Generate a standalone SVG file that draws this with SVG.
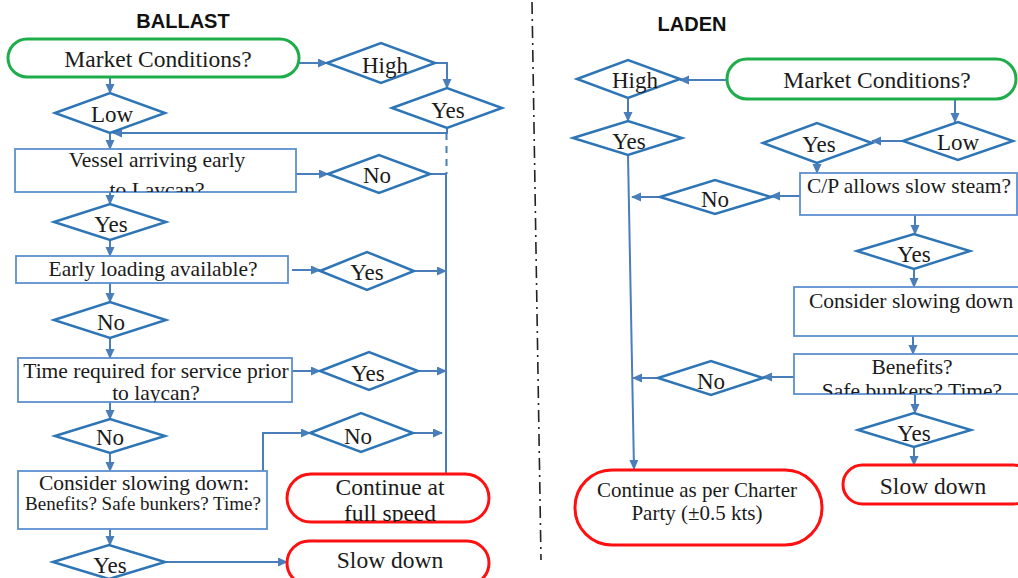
<svg xmlns="http://www.w3.org/2000/svg" width="1018" height="578" viewBox="0 0 1018 578">
  <defs>
    <marker id="arrow" markerUnits="userSpaceOnUse" markerWidth="10" markerHeight="10" refX="9" refY="4.5" orient="auto">
      <path d="M0,0 L10,4.5 L0,9 z" fill="#4a7ebb"/>
    </marker>
    <clipPath id="clipVessel"><rect x="15" y="149" width="281" height="43"/></clipPath>
    <clipPath id="clipTime"><rect x="18" y="358" width="274" height="44"/></clipPath>
    <clipPath id="clipFull"><rect x="287" y="474" width="202" height="48" rx="24"/></clipPath>
    <clipPath id="clipBenefits"><rect x="794" y="354" width="230" height="40"/></clipPath>
  </defs>
  <style>
    .title { font-family: "Liberation Sans", Arial, sans-serif; font-weight: bold; font-size: 20px; fill: #111; text-anchor: middle; }
    .t { font-family: "Liberation Serif", "Times New Roman", serif; fill: #1a1a1a; text-anchor: middle; }
    .big { font-size: 23.5px; }
    .dl { font-size: 23px; }
    .bx { font-size: 21.5px; }
    .cp { font-size: 21px; }
    .sm { font-size: 19px; }
    .dia { fill: #fff; stroke: #2e75b6; stroke-width: 2.5; stroke-linejoin: miter; }
    .box { fill: #fff; stroke: #5b8fd0; stroke-width: 1.8; }
    .go { fill: #fff; stroke: #1fad4b; stroke-width: 3; }
    .end { fill: #fff; stroke: #ff1010; stroke-width: 3; }
    .c { fill: none; stroke: #4a7ebb; stroke-width: 2; }
    .ca { fill: none; stroke: #4a7ebb; stroke-width: 2; marker-end: url(#arrow); }
  </style>
  <rect width="1018" height="578" fill="#fff"/>

  <!-- headings -->
  <text class="title" x="183" y="28">BALLAST</text>
  <text class="title" x="692" y="31">LADEN</text>

  <!-- divider between the two charts -->
  <line x1="532" y1="2" x2="541" y2="560" stroke="#222" stroke-width="1.6" stroke-dasharray="12 5 2 5"/>

  <!-- connectors -->
  <g id="connectors">
    <!-- ballast -->
    <path class="ca" d="M299,63 H327"/>
    <path class="ca" d="M435,63 H447 V88"/>
    <path class="ca" d="M110,77 V93"/>
    <path class="ca" d="M447,128 V133 H113"/>
    <path class="ca" d="M110,133 V149"/>
    <path class="ca" d="M296,174 H328"/>
    <path class="c" d="M430,174 H446"/>
    <path class="c" d="M446.5,133 V174" stroke-dasharray="7 6"/>
    <path class="c" d="M446,174 V474"/>
    <path class="ca" d="M110,192 V204"/>
    <path class="ca" d="M110,240 V256"/>
    <path class="ca" d="M292,270 H320"/>
    <path class="ca" d="M414,271 H446"/>
    <path class="ca" d="M110,283 V302"/>
    <path class="ca" d="M110,338 V358"/>
    <path class="ca" d="M292,371 H320"/>
    <path class="ca" d="M418,371 H446"/>
    <path class="ca" d="M110,402 V419"/>
    <path class="ca" d="M110,453 V471"/>
    <path class="ca" d="M263,471 V433 H310"/>
    <path class="ca" d="M413,433 H442"/>
    <path class="ca" d="M110,529 V545"/>
    <path class="ca" d="M165,562 H287"/>
    <!-- laden -->
    <path class="ca" d="M727,80 H680"/>
    <path class="ca" d="M628,98 V121"/>
    <path class="ca" d="M628,155 L634,469"/>
    <path class="ca" d="M955,99 V122"/>
    <path class="ca" d="M903,141 H872"/>
    <path class="ca" d="M817,163 V173"/>
    <path class="ca" d="M800,196 H771"/>
    <path class="ca" d="M660,197 H632"/>
    <path class="ca" d="M915,215 V234"/>
    <path class="ca" d="M914,269 V287"/>
    <path class="ca" d="M913,336 V354"/>
    <path class="ca" d="M794,377 H763"/>
    <path class="ca" d="M658,378 H633"/>
    <path class="ca" d="M915,394 V413"/>
    <path class="ca" d="M914,447 V465"/>
  </g>

  <!-- ballast chart -->
  <g id="b-market">
    <rect class="go" x="8" y="39" width="291" height="38" rx="19"/>
    <text class="t big" x="158" y="67">Market Conditions?</text>
  </g>
  <g id="b-high">
    <polygon class="dia" points="327,63 381,43 435,63 381,83"/>
    <text class="t dl" x="385" y="73">High</text>
  </g>
  <g id="b-high-yes">
    <polygon class="dia" points="392,108 447,88 502,108 447,128"/>
    <text class="t dl" x="448" y="118">Yes</text>
  </g>
  <g id="b-low">
    <polygon class="dia" points="55,113 110,93 165,113 110,133"/>
    <text class="t dl" x="112" y="122">Low</text>
  </g>
  <g id="b-vessel">
    <rect class="box" x="15" y="149" width="281" height="43"/>
    <text class="t bx" x="157" y="167">Vessel arriving early</text>
    <text class="t bx" x="157" y="197" clip-path="url(#clipVessel)">to Laycan?</text>
  </g>
  <g id="b-vessel-no">
    <polygon class="dia" points="328,174 379,155 430,174 379,193"/>
    <text class="t dl" x="377" y="183">No</text>
  </g>
  <g id="b-vessel-yes">
    <polygon class="dia" points="54,222 110,204 166,222 110,240"/>
    <text class="t dl" x="111" y="232">Yes</text>
  </g>
  <g id="b-early">
    <rect class="box" x="16" y="256" width="272" height="27"/>
    <text class="t bx" x="153" y="276">Early loading available?</text>
  </g>
  <g id="b-early-yes">
    <polygon class="dia" points="320,271 367,252 414,271 367,290"/>
    <text class="t dl" x="367" y="280">Yes</text>
  </g>
  <g id="b-early-no">
    <polygon class="dia" points="54,320 110,302 166,320 110,338"/>
    <text class="t dl" x="111" y="330">No</text>
  </g>
  <g id="b-time">
    <rect class="box" x="18" y="358" width="274" height="44"/>
    <text class="t bx" x="156" y="378">Time required for service prior</text>
    <text class="t bx" x="156" y="400" clip-path="url(#clipTime)">to laycan?</text>
  </g>
  <g id="b-time-yes">
    <polygon class="dia" points="320,371 369,352 418,371 369,390"/>
    <text class="t dl" x="368" y="381">Yes</text>
  </g>
  <g id="b-time-no">
    <polygon class="dia" points="55,436 110,419 165,436 110,453"/>
    <text class="t dl" x="110" y="445">No</text>
  </g>
  <g id="b-consider">
    <rect class="box" x="18" y="471" width="249" height="58"/>
    <text class="t bx" x="144" y="490">Consider slowing down:</text>
    <text class="t sm" x="143" y="510">Benefits? Safe bunkers? Time?</text>
  </g>
  <g id="b-consider-no">
    <polygon class="dia" points="310,433 361,413 413,433 361,452"/>
    <text class="t dl" x="358" y="444">No</text>
  </g>
  <g id="b-full-speed">
    <rect class="end" x="287" y="474" width="202" height="48" rx="24"/>
    <text class="t big" x="390" y="495">Continue at</text>
    <text class="t big" x="390" y="521" clip-path="url(#clipFull)">full speed</text>
  </g>
  <g id="b-consider-yes">
    <polygon class="dia" points="53,562 109,545 165,562 109,579"/>
    <text class="t dl" x="110" y="573">Yes</text>
  </g>
  <g id="b-slow">
    <rect class="end" x="287" y="541" width="202" height="44" rx="22"/>
    <text class="t big" x="390" y="568">Slow down</text>
  </g>

  <!-- laden chart -->
  <g id="l-market">
    <rect class="go" x="727" y="59" width="289" height="40" rx="20"/>
    <text class="t big" x="877" y="88">Market Conditions?</text>
  </g>
  <g id="l-high">
    <polygon class="dia" points="577,79 628,60 680,79 628,98"/>
    <text class="t dl" x="635" y="88">High</text>
  </g>
  <g id="l-high-yes">
    <polygon class="dia" points="573,138 628,121 682,138 628,155"/>
    <text class="t dl" x="629" y="149">Yes</text>
  </g>
  <g id="l-low">
    <polygon class="dia" points="903,141 958,122 1013,141 958,160"/>
    <text class="t dl" x="958" y="150">Low</text>
  </g>
  <g id="l-low-yes">
    <polygon class="dia" points="763,143 817,123 872,143 817,163"/>
    <text class="t dl" x="819" y="152">Yes</text>
  </g>
  <g id="l-cp">
    <rect class="box" x="800" y="173" width="217" height="42"/>
    <text class="t bx" x="909" y="193">C/P allows slow steam?</text>
  </g>
  <g id="l-cp-no">
    <polygon class="dia" points="660,197 715,180 771,197 715,214"/>
    <text class="t dl" x="715" y="207">No</text>
  </g>
  <g id="l-cp-yes">
    <polygon class="dia" points="857,251 914,234 970,251 914,269"/>
    <text class="t dl" x="914" y="262">Yes</text>
  </g>
  <g id="l-consider">
    <rect class="box" x="794" y="287" width="232" height="49"/>
    <text class="t bx" x="911" y="308">Consider slowing down</text>
  </g>
  <g id="l-benefits">
    <rect class="box" x="794" y="354" width="232" height="40"/>
    <text class="t bx" x="912" y="374">Benefits?</text>
    <text class="t bx" x="912" y="398" clip-path="url(#clipBenefits)">Safe bunkers? Time?</text>
  </g>
  <g id="l-benefits-no">
    <polygon class="dia" points="658,378 711,361 763,378 711,395"/>
    <text class="t dl" x="711" y="389">No</text>
  </g>
  <g id="l-benefits-yes">
    <polygon class="dia" points="858,430 914,413 971,430 914,447"/>
    <text class="t dl" x="914" y="441">Yes</text>
  </g>
  <g id="l-charter">
    <rect class="end" x="575" y="470" width="247" height="75" rx="37"/>
    <text class="t cp" x="697" y="497">Continue as per Charter</text>
    <text class="t cp" x="697" y="520">Party (±0.5 kts)</text>
  </g>
  <g id="l-slow">
    <rect class="end" x="843" y="465" width="190" height="39" rx="19.5"/>
    <text class="t big" x="933" y="494">Slow down</text>
  </g>
</svg>
